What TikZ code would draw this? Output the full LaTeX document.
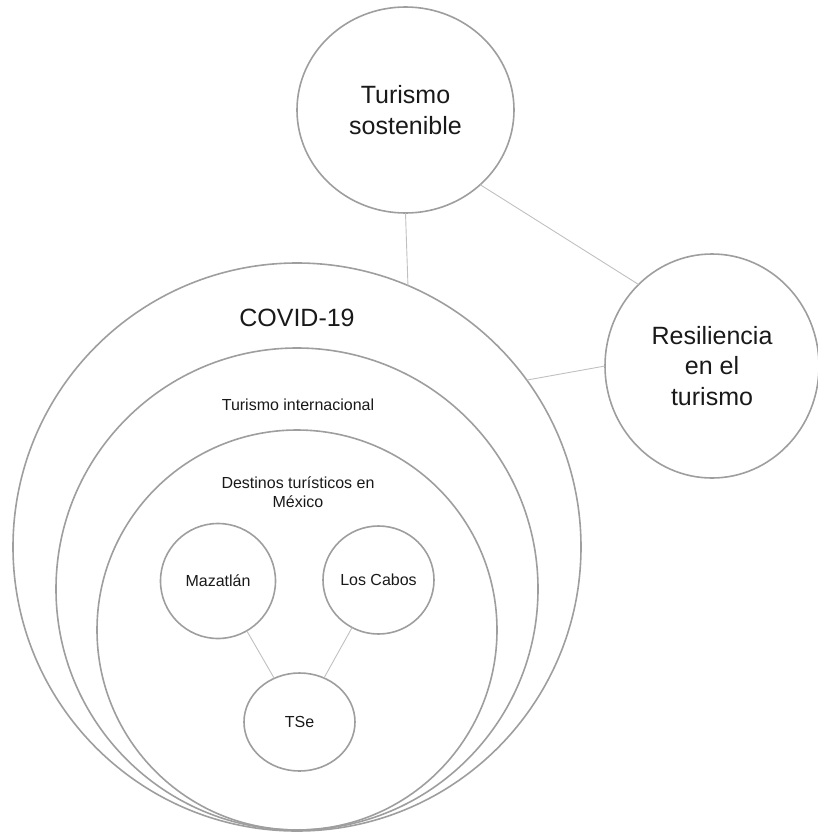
\documentclass[tikz,border=0pt]{standalone}
\usepackage{fontspec}
\setmainfont{Liberation Sans}
\usetikzlibrary{shapes.geometric}
\definecolor{RingGray}{RGB}{158,158,158}
\definecolor{LinkGray}{RGB}{192,192,192}
\definecolor{InkBlack}{RGB}{25,25,25}
\tikzset{
  ring/.style={circle, draw=RingGray, line width=1.6pt, inner sep=0pt, outer sep=0pt, minimum size=#1},
  bubble/.style={ellipse, draw=RingGray, line width=1.6pt, inner sep=0pt, outer sep=0pt, align=center, text=InkBlack},
  bigtext/.style={font=\fontsize{25}{30.5}\selectfont},
  smalltext/.style={font=\fontsize{16}{18.5}\selectfont},
  link/.style={draw=LinkGray, line width=0.9pt}
}

\begin{document}
\begin{tikzpicture}[x=1pt, y=-1pt]
  \useasboundingbox (0,0) rectangle (817,833);
  % nested rings
  \node[ring=568pt] (covid) at (297,547) {};
  \node[ring=482pt] (intl) at (297,589) {};
  \node[ring=400pt] (dest) at (297,630) {};
  \node[bigtext, text=InkBlack] (covidlbl) at (297,318) {COVID-19};
  \node[smalltext, text=InkBlack] (intllbl) at (298,405) {Turismo internacional};
  \node[smalltext, text=InkBlack, align=center] (destlbl) at (298,492) {Destinos turísticos en\\México};
  % destinations
  \node[bubble, smalltext, minimum width=115pt, minimum height=115pt] (maz) at (218,581) {Mazatlán};
  \node[bubble, smalltext, minimum width=111pt, minimum height=108pt] (cabos) at (378.5,580) {Los Cabos};
  \node[bubble, smalltext, minimum width=111pt, minimum height=98pt] (tse) at (299.5,722) {TSe};
  % outer topics
  \node[bubble, bigtext, minimum width=217pt, minimum height=206pt] (turismo) at (405.5,110) {Turismo\\sostenible};
  \node[bubble, bigtext, minimum width=214pt, minimum height=224pt] (resil) at (712,366) {Resiliencia\\en el\\turismo};
  % links
  \draw[link] (turismo.south) -- (covid.67.5);
  \draw[link] (turismo.-45) -- (resil.132);
  \draw[link] (resil.west) -- (covid.36);
  \draw[link] (maz) -- (tse);
  \draw[link] (cabos) -- (tse);
\end{tikzpicture}
\end{document}
